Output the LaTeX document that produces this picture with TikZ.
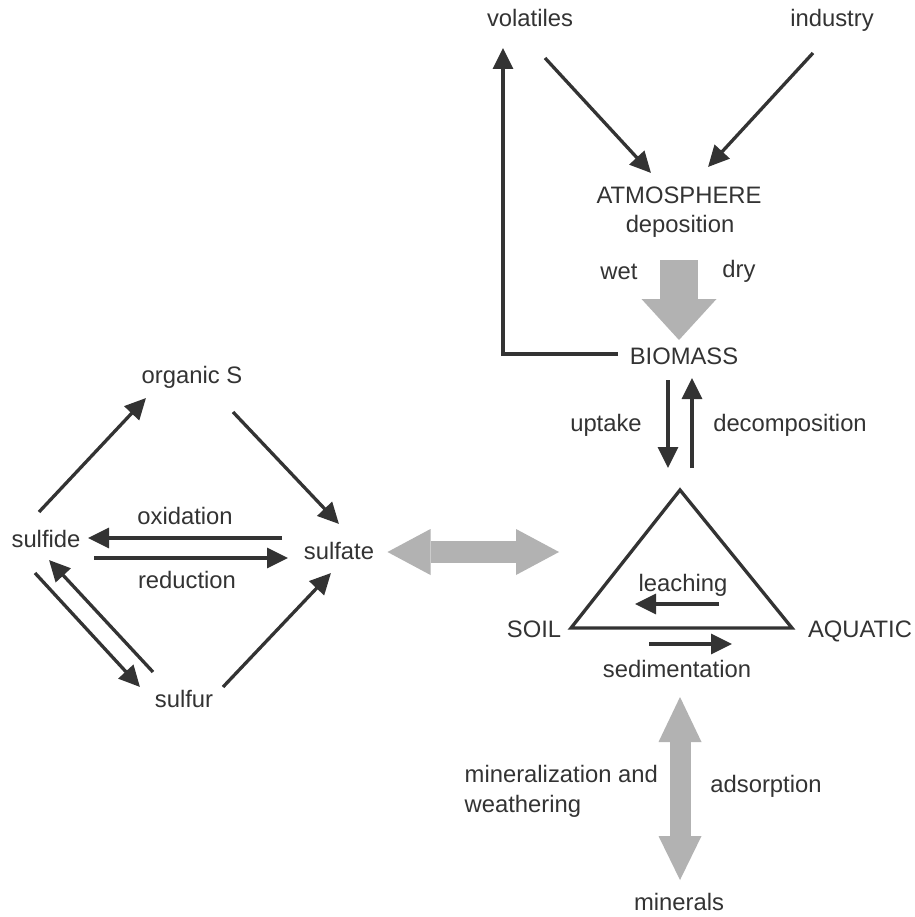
\documentclass[tikz,border=0pt]{standalone}
\usepackage{fontspec}
\setmainfont{Liberation Sans}
\usetikzlibrary{arrows.meta}
\definecolor{ink}{HTML}{333333}
\definecolor{flux}{HTML}{B2B2B2}
\begin{document}
\begin{tikzpicture}[x=1pt,y=-1pt,
  lbl/.style={inner sep=0pt,anchor=base,text=ink,font=\fontsize{23.8}{30}\selectfont},
  flow/.style={draw=ink,line width=3.3pt,-{Triangle[length=21pt,width=20pt]}},
  bigflow/.style={draw=flux,line width=#1}]
\useasboundingbox[fill=white] (0,0) rectangle (914,917);

% ---- labels ----
\node[lbl] (vol)  at (530,27)  {volatiles};
\node[lbl] (ind)  at (832,27)  {industry};
\node[lbl] (atm)  at (679,204) {ATMOSPHERE};
\node[lbl] (dep)  at (680,233) {deposition};
\node[lbl] (wet)  at (619,279) {wet};
\node[lbl] (dry)  at (739,277) {dry};
\node[lbl] (bio)  at (684,364) {BIOMASS};
\node[lbl] (upt)  at (606,431) {uptake};
\node[lbl] (dec)  at (790,431) {decomposition};
\node[lbl] (orgS) at (192,383) {organic S};
\node[lbl] (sfd)  at (46,547)  {sulfide};
\node[lbl] (oxi)  at (185,524) {oxidation};
\node[lbl] (red)  at (187,588) {reduction};
\node[lbl] (sft)  at (339,559) {sulfate};
\node[lbl] (sfr)  at (184,707) {sulfur};
\node[lbl] (lea)  at (683,591) {leaching};
\node[lbl] (soil) at (534,637) {SOIL};
\node[lbl] (aqu)  at (860,637) {AQUATIC};
\node[lbl] (sed)  at (677,677) {sedimentation};
% two-line label: the base anchor sits on the last line
\node[lbl,anchor=base west,align=left] (min) at (464.5,812) {mineralization and\\weathering};
\node[lbl] (ads)  at (766,792) {adsorption};
\node[lbl] (mnr)  at (679,910) {minerals};

% ---- connector end points ----
\coordinate (volS) at (545,58);   \coordinate (volE) at (651,173);
\coordinate (indS) at (813,53);   \coordinate (indE) at (708,167);
\coordinate (bioW) at (618,354);  \coordinate (bend) at (503,354);
\coordinate (volT) at (503,48);
\coordinate (uptS) at (668,380);  \coordinate (uptE) at (668,468);
\coordinate (decS) at (692,468);  \coordinate (decE) at (692,378);
\coordinate (soS)  at (39,512);   \coordinate (soE)  at (146,398);
\coordinate (osS)  at (233,412);  \coordinate (osE)  at (339,524);
\coordinate (oxS)  at (282,538);  \coordinate (oxE)  at (88,538);
\coordinate (rdS)  at (94,558);   \coordinate (rdE)  at (288,558);
\coordinate (ssS)  at (35,573);   \coordinate (ssE)  at (140,687);
\coordinate (rsS)  at (153,672);  \coordinate (rsE)  at (49,560);
\coordinate (rfS)  at (223,687);  \coordinate (rfE)  at (331,573);
\coordinate (leS)  at (719,604);  \coordinate (leE)  at (635,604);
\coordinate (seS)  at (649,644);  \coordinate (seE)  at (732,644);
\coordinate (triT) at (680,490);  \coordinate (triL) at (571,628);
\coordinate (triR) at (792,628);
\coordinate (depS) at (679,260);  \coordinate (depE) at (679,340);
\coordinate (exL)  at (387.5,552);\coordinate (exR)  at (559,552);
\coordinate (mnT)  at (680,697);  \coordinate (mnB)  at (680,880);

% ---- black fluxes ----
\draw[flow] (volS) -- (volE);
\draw[flow] (indS) -- (indE);
\draw[flow] (bioW) -- (bend) -- (volT);
\draw[flow] (uptS) -- (uptE);
\draw[flow] (decS) -- (decE);
\draw[flow] (soS) -- (soE);
\draw[flow] (osS) -- (osE);
\draw[flow] (oxS) -- (oxE);
\draw[flow] (rdS) -- (rdE);
\draw[flow] (ssS) -- (ssE);
\draw[flow] (rsS) -- (rsE);
\draw[flow] (rfS) -- (rfE);
\draw[flow] (leS) -- (leE);
\draw[flow] (seS) -- (seE);

% ---- soil / aquatic triangle ----
\draw[ink,line width=3.3pt,line join=miter] (triT) -- (triL) -- (triR) -- cycle;

% ---- grey fluxes ----
\draw[bigflow=38pt,-{Triangle[length=41pt,width=75pt,line width=0pt 0 0]}] (depS) -- (depE);
\draw[bigflow=22pt,{Triangle[length=43pt,width=46pt,line width=0pt 0 0]}-{Triangle[length=43pt,width=46pt,line width=0pt 0 0]}] (exL) -- (exR);
\draw[bigflow=21pt,{Triangle[length=45pt,width=43pt,line width=0pt 0 0]}-{Triangle[length=44pt,width=43pt,line width=0pt 0 0]}] (mnT) -- (mnB);
\end{tikzpicture}
\end{document}
